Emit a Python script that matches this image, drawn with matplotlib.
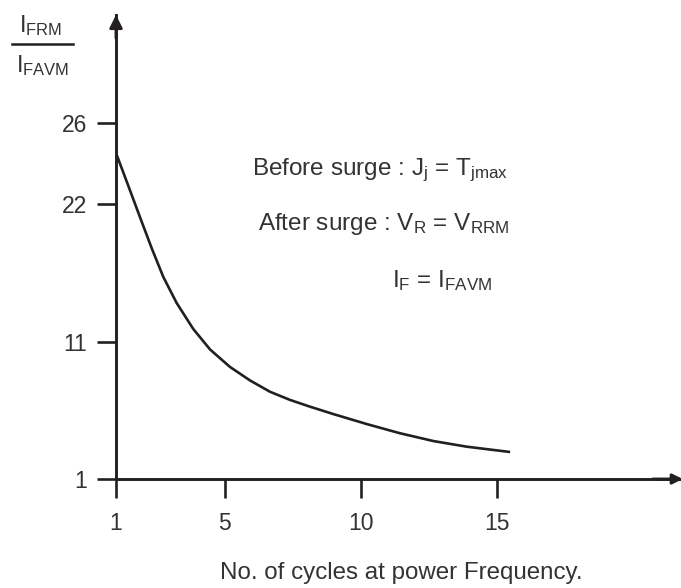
import numpy as np
import matplotlib
matplotlib.use("Agg")
import matplotlib.pyplot as plt
from matplotlib.lines import Line2D

plt.rcParams['font.family'] = ['Liberation Sans', 'DejaVu Sans']
plt.rcParams['mathtext.fontset'] = 'custom'
plt.rcParams['mathtext.rm'] = 'Liberation Sans'
plt.rcParams['mathtext.it'] = 'Liberation Sans'
plt.rcParams['mathtext.default'] = 'regular'

# ---- data ----
cycles = [1.0, 1.51, 1.92, 2.31, 2.74, 3.23, 3.84, 4.46, 5.19, 5.93, 6.66,
          7.40, 8.13, 8.99, 10.22, 11.44, 12.67, 13.89, 15.49]
ratio = [24.52, 22.69, 20.73, 18.49, 16.18, 14.11, 12.04, 10.45, 9.18, 8.19,
         7.37, 6.77, 6.28, 5.74, 5.01, 4.34, 3.77, 3.36, 2.97]
x_ticks = [1, 5, 10, 15]
y_ticks = [1, 11, 22, 26]
x_label = "No. of cycles at power Frequency."
notes = [r"Before surge : $J_j$ = $T_{jmax}$",
         r"After surge : $V_R$ = $V_{RRM}$",
         r"$I_F$ = $I_{FAVM}$"]

INK = '#231f20'
TXT = '#333333'

# schematic (piecewise-linear) value axis, as in the original drawing
_v = np.array([-20.0, 1.0, 11.0, 22.0, 26.0, 60.0])
_p = np.array([-21 * 13.7, 0.0, 137.0, 275.0, 356.0, 356.0 + 34 * 20.25])


def fwd(v):
    return np.interp(v, _v, _p)


def inv(p):
    return np.interp(p, _p, _v)


W, H = 681, 588
fig = plt.figure(figsize=(W / 100, H / 100), dpi=100)
ax = fig.add_axes([116 / W, (H - 479) / H, 565 / W, (479 - 15) / H])
ax.set_yscale('function', functions=(fwd, inv))

ax.plot(cycles, ratio, color=INK, lw=1.9, solid_capstyle='butt',
        solid_joinstyle='round')

ax.set_xlim(1, 1 + 565 / 27.2)
ax.set_ylim(1, 26 + (464 - 356) / 20.25)

for s in ['top', 'right']:
    ax.spines[s].set_visible(False)
for s in ['left', 'bottom']:
    ax.spines[s].set_linewidth(2.1)
    ax.spines[s].set_color(INK)

ax.set_xticks(x_ticks)
ax.set_xticklabels([str(t) for t in x_ticks])
ax.set_yticks(y_ticks)
ax.set_yticklabels([str(t) for t in y_ticks])
ax.yaxis.set_minor_locator(matplotlib.ticker.NullLocator())
ax.tick_params(axis='both', direction='out', length=13.7, width=1.9,
               color=INK, labelsize=16.5, labelcolor=TXT)
ax.tick_params(axis='x', pad=10)
ax.tick_params(axis='y', pad=7)

ax.set_xlabel(x_label, fontsize=17.4, color=TXT)
ax.xaxis.set_label_coords((401 - 116) / 565, (479 - 573) / 464)
ax.xaxis.label.set_va('center')

# axis arrow heads
ax.annotate('', xy=(0, 1.0), xycoords='axes fraction', xytext=(0, 0.95),
            arrowprops=dict(arrowstyle='-|>,head_length=0.75,head_width=0.38',
                            color=INK, lw=2.1, shrinkA=0, shrinkB=0),
            annotation_clip=False)
ax.annotate('', xy=(1.003, 0), xycoords='axes fraction', xytext=(0.95, 0),
            arrowprops=dict(arrowstyle='-|>,head_length=0.6,head_width=0.3',
                            color=INK, lw=2.1, shrinkA=0, shrinkB=0),
            annotation_clip=False)

# annotations
note_pos = [((252 - 116) / 565, (479 - 175) / 464),
            ((258 - 116) / 565, (479 - 230) / 464),
            ((392 - 116) / 565, (479 - 287) / 464)]
for txt, (px, py) in zip(notes, note_pos):
    ax.text(px, py, txt, transform=ax.transAxes, fontsize=17.5,
            color=TXT, ha='left', va='baseline')

# y-axis quantity as a fraction
fig.text(41 / W, 1 - 26 / H, r"$I_{FRM}$", fontsize=17, color=TXT,
         ha='center', va='center')
fig.text(43 / W, 1 - 66 / H, r"$I_{FAVM}$", fontsize=17, color=TXT,
         ha='center', va='center')
fig.add_artist(Line2D([12 / W, 73 / W], [1 - 44 / H, 1 - 44 / H],
                      transform=fig.transFigure, color=INK, lw=1.8))

fig.savefig('out.png', dpi=100)
